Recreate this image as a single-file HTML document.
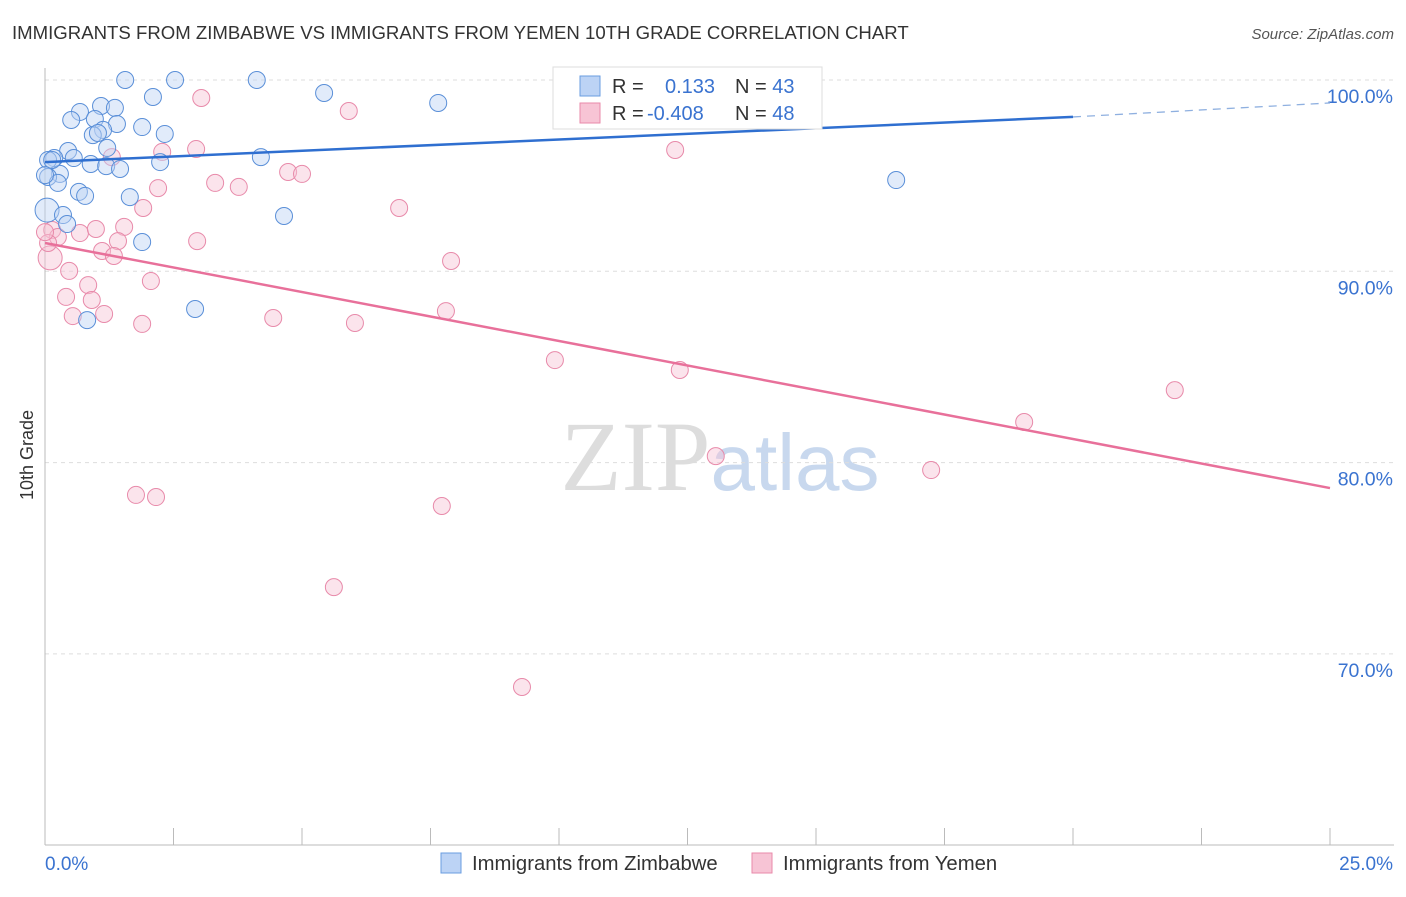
<!DOCTYPE html>
<html><head><meta charset="utf-8"><style>
body{margin:0;background:#fff;font-family:"Liberation Sans",sans-serif;}
</style></head><body>
<svg width="1406" height="892" xmlns="http://www.w3.org/2000/svg" font-family="Liberation Sans, sans-serif">
<text x="12" y="39" font-size="18.6" fill="#333">IMMIGRANTS FROM ZIMBABWE VS IMMIGRANTS FROM YEMEN 10TH GRADE CORRELATION CHART</text>
<text x="1394" y="39" font-size="15" fill="#555" text-anchor="end" font-style="italic">Source: ZipAtlas.com</text>
<text x="720" y="490" font-size="100" text-anchor="middle" fill="#ddd" font-family="Liberation Serif, serif">ZIP<tspan fill="#c8d8ee" font-family="Liberation Sans, sans-serif" font-size="80">atlas</tspan></text>
<g id="grid"></g><g id="axes"></g><g id="marks"></g>
<text transform="translate(33,455) rotate(-90)" font-size="18" fill="#333" text-anchor="middle">10th Grade</text>
<g>
<rect x="553" y="67" width="269" height="62" fill="#fff" stroke="#ddd"/>
<rect x="580" y="76" width="20" height="20" fill="#bcd3f5" stroke="#6a9de0"/>
<text x="612" y="93" font-size="20" fill="#333">R = <tspan x="665" fill="#3a73d0">0.133</tspan><tspan x="735" fill="#333">N = </tspan><tspan fill="#3a73d0">43</tspan></text>
<rect x="580" y="103" width="20" height="20" fill="#f7c4d5" stroke="#e88aaa"/>
<text x="612" y="120" font-size="20" fill="#333">R = <tspan x="647" fill="#3a73d0">-0.408</tspan><tspan x="735" fill="#333">N = </tspan><tspan fill="#3a73d0">48</tspan></text>
</g>
<g>
<rect x="441" y="853" width="20" height="20" fill="#bcd3f5" stroke="#6a9de0"/>
<text x="472" y="870" font-size="20.3" fill="#333">Immigrants from Zimbabwe</text>
<rect x="752" y="853" width="20" height="20" fill="#f7c4d5" stroke="#e88aaa"/>
<text x="783" y="870" font-size="20.3" fill="#333">Immigrants from Yemen</text>
</g>
</svg>
<script>
const blueX=[1.56,2.53,4.12,2.10,5.43,7.65,0.68,1.09,1.36,0.51,0.97,1.40,1.13,1.89,0.93,1.03,2.33,0.45,1.21,0.18,0.06,0.56,0.89,1.19,1.46,2.24,4.20,0.29,0.06,0.25,0.66,0.78,1.65,0.04,0.35,0.43,4.65,1.89,2.92,0.82,16.56,0.14,0.0];
const blueY=[100,100,100,99.11,99.32,98.80,98.33,98.64,98.54,97.91,97.96,97.70,97.39,97.54,97.12,97.23,97.18,96.29,96.45,95.92,95.82,95.92,95.61,95.50,95.35,95.71,95.97,95.09,94.93,94.62,94.15,93.94,93.88,93.20,92.94,92.47,92.89,91.53,88.03,87.45,94.77,95.82,95.03];
const pinkX=[3.04,5.91,12.26,2.94,2.28,1.30,4.73,5.00,3.31,3.77,2.20,1.91,6.89,0.14,0.25,0.68,0.99,1.54,2.96,1.42,1.11,1.34,0.10,7.90,0.47,2.06,0.84,0.41,0.91,7.80,0.54,1.15,1.89,4.44,6.03,9.92,12.35,21.98,19.05,13.05,17.24,1.77,2.16,7.72,5.62,9.28,0.06,0.0];
const pinkY=[99.06,98.38,96.34,96.39,96.24,95.97,95.19,95.09,94.62,94.41,94.35,93.31,93.31,92.16,91.79,92.00,92.21,92.32,91.58,91.58,91.06,90.80,90.70,90.54,90.02,89.49,89.28,88.66,88.50,87.92,87.66,87.77,87.25,87.56,87.30,85.36,84.84,83.79,82.12,80.34,79.61,78.31,78.20,77.73,73.49,68.27,91.48,92.05];
const blueTrend=[95.71,98.07,98.80];
const pinkTrend=[91.48,78.67];
const yTicks=[100,90,80,70];
const yTickLabels=["100.0%","90.0%","80.0%","70.0%"];
const NS="http://www.w3.org/2000/svg";
const sx=v=>45+v/25*1285;
const sy=v=>80+(100-v)*19.13;
function mk(t,a,p){const e=document.createElementNS(NS,t);for(const k in a)e.setAttribute(k,a[k]);document.getElementById(p).appendChild(e);return e;}
yTicks.forEach((t,i)=>{
 const l=mk('line',{x1:45,x2:1394,y1:sy(t),y2:sy(t),stroke:'#ddd','stroke-dasharray':'4,4'},'grid');
 
 
 const tx=mk('text',{x:1393,y:sy(t)+23,'font-size':19.5,fill:'#3a73d0','text-anchor':'end'},'grid');
 tx.textContent=yTickLabels[i];
 
 
});
let a=mk('line',{x1:45,x2:45,y1:68,y2:845,stroke:'#bbb'},'axes');


a=mk('line',{x1:45,x2:1394,y1:845,y2:845,stroke:'#bbb'},'axes');


for(let i=0;i<=10;i++){const t=mk('line',{x1:sx(i*2.5),x2:sx(i*2.5),y1:828,y2:845,stroke:'#bbb'},'axes');
 
 }
let xl=mk('text',{x:45,y:870,'font-size':19,fill:'#3a73d0'},'axes');xl.textContent='0.0%';


xl=mk('text',{x:1393,y:870,'font-size':19,fill:'#3a73d0','text-anchor':'end'},'axes');xl.textContent='25.0%';


function pts(X,Y,fill,stroke,name){X.forEach((x,i)=>{const r=(x<0.06&&Math.abs(Y[i]-93.2)<0.1)||(x===0.10&&Y[i]===90.70)?12:8.5;
 const c=mk('circle',{cx:sx(x),cy:sy(Y[i]),r:r,fill:fill,'fill-opacity':0.45,stroke:stroke,'stroke-width':1},'marks');
 
 });}
pts(pinkX,pinkY,'#f7c4d5','#e88aaa','yemen-point');
pts(blueX,blueY,'#bcd3f5','#5a8fd8','zimbabwe-point');
let L=mk('line',{x1:sx(0),y1:sy(blueTrend[0]),x2:sx(20),y2:sy(blueTrend[1]),stroke:'#2f6fd0','stroke-width':2.5},'marks');


L=mk('line',{x1:sx(20),y1:sy(blueTrend[1]),x2:sx(25),y2:sy(blueTrend[2]),stroke:'#8fb0e0','stroke-width':1.3,'stroke-dasharray':'8,6'},'marks');


L=mk('line',{x1:sx(0),y1:sy(pinkTrend[0]),x2:sx(25),y2:sy(pinkTrend[1]),stroke:'#e8709a','stroke-width':2.5},'marks');


</script>
</body></html>
